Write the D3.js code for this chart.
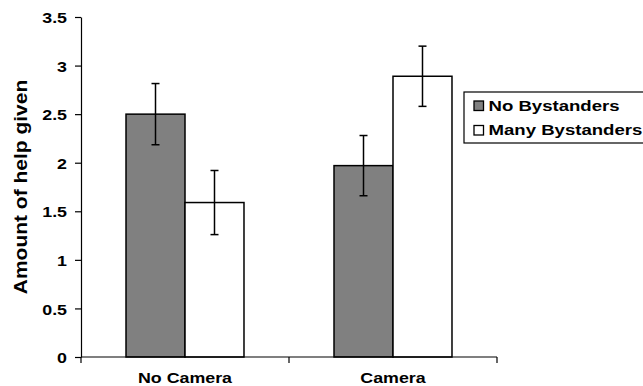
<!DOCTYPE html>
<html><head><meta charset="utf-8">
<script src="https://cdn.jsdelivr.net/npm/d3@7"></script>
<style>body{margin:0;background:#fff}text{font-family:"Liberation Sans",Arial,sans-serif;font-weight:bold}</style>
</head><body><svg id="c" width="643" height="386"></svg>
<script>
const categories = ["No Camera", "Camera"];
const seriesNames = ["No Bystanders", "Many Bystanders"];
const seriesColors = ["#808080", "#ffffff"];
const noBystanders = [2.50, 1.97];
const manyBystanders = [1.59, 2.89];
const noBystandersErr = [0.315, 0.31];
const manyBystandersErr = [0.33, 0.31];
const yTicks = [0, 0.5, 1, 1.5, 2, 2.5, 3, 3.5];

(function(){
const svg = d3.select("#c");
const mL = 81, mR = 497, mT = 17, mB = 357;
const SX = 1.15;
const x = d3.scaleBand().domain(categories).range([mL, mR]).paddingInner(0).paddingOuter(0);
const y = d3.scaleLinear().domain([0, 3.5]).range([mB, mT]);
const x1 = d3.scaleBand().domain(seriesNames).range([0, x.bandwidth()]).paddingOuter(0.763).paddingInner(0);

const data = [];
categories.forEach((c, i) => {
  data.push({c, s: seriesNames[0], v: noBystanders[i], e: noBystandersErr[i], col: seriesColors[0]});
  data.push({c, s: seriesNames[1], v: manyBystanders[i], e: manyBystandersErr[i], col: seriesColors[1]});
});

svg.selectAll("rect.bar").data(data).enter().append("rect").attr("class","bar")
  .attr("x", d => x(d.c) + x1(d.s)).attr("width", x1.bandwidth())
  .attr("y", d => y(d.v)).attr("height", d => y(0) - y(d.v))
  .attr("fill", d => d.col).attr("stroke", "#000").attr("stroke-width", 1.5);

const eg = svg.selectAll("g.err").data(data).enter().append("g")
  .attr("transform", d => `translate(${x(d.c) + x1(d.s) + x1.bandwidth()/2},0)`)
  .attr("stroke", "#000").attr("stroke-width", 1.5);
eg.append("line").attr("y1", d => y(d.v + d.e)).attr("y2", d => y(d.v - d.e));
eg.append("line").attr("x1", -4).attr("x2", 4).attr("y1", d => y(d.v + d.e)).attr("y2", d => y(d.v + d.e));
eg.append("line").attr("x1", -4).attr("x2", 4).attr("y1", d => y(d.v - d.e)).attr("y2", d => y(d.v - d.e));

// y axis
const ya = svg.append("g").attr("transform", `translate(${mL},0)`)
  .call(d3.axisLeft(y).tickValues(yTicks).tickFormat(d => d).tickSize(6).tickPadding(8).tickSizeOuter(0));
ya.select(".domain").attr("stroke-width", 1.2);
ya.selectAll("line").attr("stroke-width", 1.2);
ya.selectAll("text").attr("font-size", 15.5).attr("fill", "#000")
  .attr("x", -14 / SX).attr("dy", "0.36em").attr("transform", `scale(${SX},1)`);

// x axis
const xa = svg.append("g").attr("transform", `translate(0,${mB})`);
xa.append("line").attr("x1", mL).attr("x2", mR).attr("stroke", "#000").attr("stroke-width", 1.2);
const bounds = [mL, ...categories.map(c => x(c) + x.bandwidth())];
xa.selectAll("line.t").data(bounds).enter().append("line").attr("class","t")
  .attr("x1", d => d).attr("x2", d => d).attr("y1", 0).attr("y2", 6).attr("stroke", "#000").attr("stroke-width", 1.2);
xa.selectAll("text").data(categories).enter().append("text")
  .attr("transform", d => `translate(${x(d) + x.bandwidth()/2},25.5) scale(${SX},1)`).attr("text-anchor", "middle")
  .attr("font-size", 15.5).text(d => d);

// y title
svg.append("text").attr("transform", "translate(27,187) rotate(-90) scale(1.2,1)").attr("text-anchor", "middle")
  .attr("font-size", 17.5).text("Amount of help given");

// legend
const lg = svg.append("g");
lg.append("rect").attr("x", 464).attr("y", 92).attr("width", 190).attr("height", 51)
  .attr("fill", "#fff").attr("stroke", "#000").attr("stroke-width", 1.2);
seriesNames.forEach((s, i) => {
  const base = 110.5 + i * 24.5;
  lg.append("rect").attr("x", 474).attr("y", base - 9.5).attr("width", 9.5).attr("height", 9.5)
    .attr("fill", seriesColors[i]).attr("stroke", "#000").attr("stroke-width", 1.3);
  lg.append("text").attr("transform", `translate(488.5,${base}) scale(1.24,1)`).attr("font-size", 15).text(s);
});
})();
</script></body></html>
